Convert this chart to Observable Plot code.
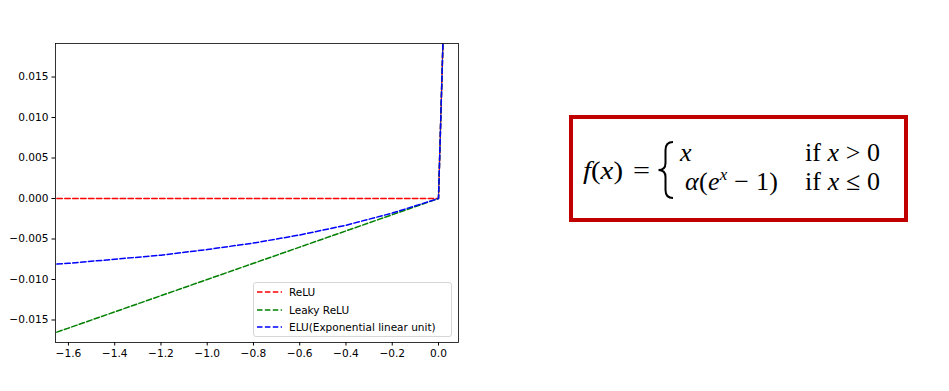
<!DOCTYPE html>
<html>
<head>
<meta charset="utf-8">
<script src="https://cdn.jsdelivr.net/npm/d3@7"></script>
<script src="https://cdn.jsdelivr.net/npm/@observablehq/plot@0.6"></script>
<style>
  html, body { margin: 0; padding: 0; background: #fff; }
  #wrap { position: relative; width: 949px; height: 391px; overflow: hidden; }
  #chart svg text { font-size: 10.6px; font-family: "DejaVu Sans", sans-serif; fill: #000; }
  #legend { position: absolute; left: 253px; top: 282px; width: 197px; height: 53px;
    border: 1px solid #d6d6d6; border-radius: 3px; background: rgba(255,255,255,0.8);
    font-family: "DejaVu Sans", sans-serif; font-size: 10.5px; color: #000; }
  .row { position: absolute; left: 0; height: 14px; }
  .row svg { position: absolute; left: 3px; top: 0; }
  .row span { position: absolute; left: 35px; top: 0px; white-space: nowrap; line-height: 14px; }
  #eq { position: absolute; left: 0; top: 0; }
</style>
</head>
<body>
<div id="wrap"><div id="chart"></div></div>
<script>
// Data
const xs        = [-1.65, -1.6, -1.4, -1.2, -1.0, -0.8, -0.6, -0.4, -0.2, 0.0, 0.1];
const relu      = [0, 0, 0, 0, 0, 0, 0, 0, 0, 0, 0.1];
const leakyRelu = [-0.0165, -0.016, -0.014, -0.012, -0.010, -0.008, -0.006, -0.004, -0.002, 0, 0.1];
const elu       = [-0.0081, -0.0080, -0.0075, -0.0070, -0.0063, -0.0055, -0.0045, -0.0033, -0.0018, 0, 0.1];
const seriesNames  = ["ReLU", "Leaky ReLU", "ELU(Exponential linear unit)"];
const seriesColors = ["red", "green", "blue"];
const seriesValues = [relu, leakyRelu, elu];
const xTicks = [-1.6, -1.4, -1.2, -1.0, -0.8, -0.6, -0.4, -0.2, 0.0];
const yTicks = [-0.015, -0.010, -0.005, 0.000, 0.005, 0.010, 0.015];

const rows = [];
seriesNames.forEach((name, i) => {
  xs.forEach((x, j) => rows.push({series: name, x, y: seriesValues[i][j]}));
});

const axisFont = {fontSize: 10.6, fontFamily: "DejaVu Sans, sans-serif", fill: "#000"};

const chart = Plot.plot({
  width: 949,
  height: 391,
  marginLeft: 55,
  marginRight: 491,
  marginTop: 43,
  marginBottom: 49,
  style: {fontFamily: "DejaVu Sans, sans-serif", fontSize: "10.6px", color: "#000", background: "transparent"},
  x: {domain: [-1.656, 0.0865]},
  y: {domain: [-0.01778, 0.01914]},
  color: {domain: seriesNames, range: seriesColors},
  marks: [
    Plot.axisX({ticks: xTicks, tickFormat: d3.format(".1f"), tickSize: 3.5, tickPadding: 3.5, label: null, stroke: "#000", ...axisFont}),
    Plot.axisY({ticks: yTicks, tickFormat: d3.format(".3f"), tickSize: 3.5, tickPadding: 3.5, label: null, stroke: "#000", ...axisFont}),
    ...seriesNames.map((name) => Plot.line(rows.filter(d => d.series === name), {
      x: "x", y: "y", stroke: "series", strokeWidth: 1.5, strokeDasharray: "5.5,2.4", clip: true
    })),
    Plot.frame({stroke: "#000", strokeWidth: 0.8})
  ]
});

const wrap = document.getElementById("wrap");
const chartDiv = document.getElementById("chart");
chart.style.position = "absolute";
chart.style.left = "0px";
chart.style.top = "0px";
chartDiv.appendChild(chart);

// legend
const legend = document.createElement("div");
legend.id = "legend";
seriesNames.forEach((name, i) => {
  const row = document.createElement("div");
  row.className = "row";
  row.style.top = (2 + i * 17.5) + "px";
  row.innerHTML = `<svg width="26" height="14"><line x1="0" y1="7" x2="25" y2="7" stroke="${seriesColors[i]}" stroke-width="1.5" stroke-dasharray="5.5,2.4"/></svg><span>${name}</span>`;
  legend.appendChild(row);
});
wrap.appendChild(legend);

// formula box
const ns = "http://www.w3.org/2000/svg";
const eqWrap = document.createElement("div");
eqWrap.id = "eq";
eqWrap.innerHTML = `
<svg xmlns="${ns}" width="949" height="391" style="font-family:'Liberation Serif',serif; font-size:26px;">
  <rect x="571" y="117" width="335" height="103" fill="#fff" stroke="#c00000" stroke-width="4"/>
  <text x="583" y="179" textLength="40" lengthAdjust="spacingAndGlyphs"><tspan font-style="italic">f</tspan>(<tspan font-style="italic">x</tspan>)</text>
  <text x="633" y="179" textLength="17" lengthAdjust="spacingAndGlyphs">=</text>
  <path d="M 673 142 Q 665.5 142 665.5 150 L 665.5 163 Q 665.5 170 658.5 170 Q 665.5 170 665.5 177 L 665.5 190 Q 665.5 198 673 198" fill="none" stroke="#000" stroke-width="2"/>
  <text x="680" y="161" font-style="italic">x</text>
  <text x="805" y="161" textLength="75" lengthAdjust="spacing">if <tspan font-style="italic">x</tspan> &gt; 0</text>
  <text x="685" y="190" textLength="93" lengthAdjust="spacing"><tspan font-style="italic">α</tspan>(<tspan font-style="italic">e</tspan><tspan font-style="italic" font-size="17" dy="-10">x</tspan><tspan dy="10"> − 1)</tspan></text>
  <text x="805" y="190" textLength="75" lengthAdjust="spacing">if <tspan font-style="italic">x</tspan> ≤ 0</text>
</svg>`;
wrap.appendChild(eqWrap);
</script>
</body>
</html>
